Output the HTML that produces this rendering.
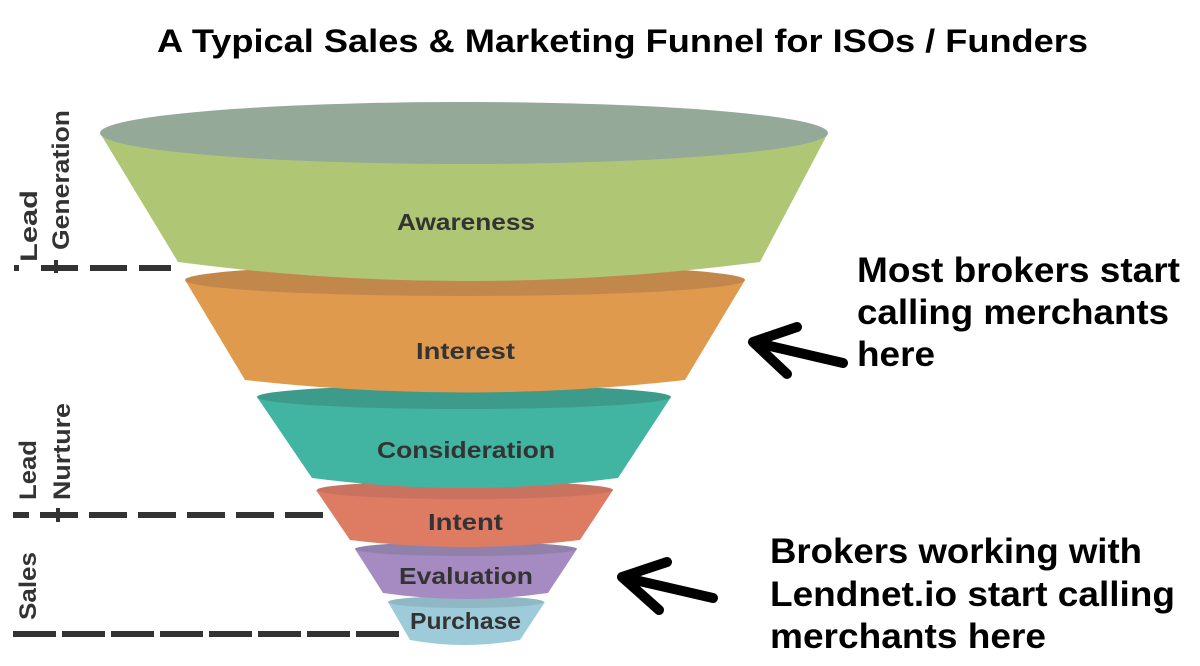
<!DOCTYPE html>
<html><head><meta charset="utf-8"><style>
html,body{margin:0;padding:0;background:#fff;}
svg{display:block;font-family:"Liberation Sans",Arial,sans-serif;font-weight:bold;}
</style></head><body>
<svg width="1200" height="666" viewBox="0 0 1200 666" xmlns="http://www.w3.org/2000/svg">
<text x="157" y="52" font-size="32" fill="#000" textLength="931" lengthAdjust="spacingAndGlyphs">A Typical Sales &amp; Marketing Funnel for ISOs / Funders</text>

<!-- Purchase -->
<path d="M388,602 L410,640 Q465,650 520,640 L545,602 Z" fill="#9dcbd9"/>
<ellipse cx="466" cy="602" rx="78" ry="6" fill="#8fb8c4"/>
<!-- Evaluation -->
<path d="M355,549 L383,593 Q465,605 548,593 L577,549 Z" fill="#a58bc2"/>
<ellipse cx="466" cy="549" rx="111" ry="7" fill="#9181aa"/>
<!-- Intent -->
<path d="M316,490 L350,540 Q465,554 580,540 L613,490 Z" fill="#dd7b63"/>
<ellipse cx="465" cy="490" rx="148" ry="9" fill="#c97260"/>
<!-- Consideration -->
<path d="M257,397 L312,478 Q465,498 618,478 L671,397 Z" fill="#42b5a2"/>
<ellipse cx="464" cy="397" rx="207" ry="12" fill="#3d9b8b"/>
<!-- Interest -->
<path d="M185,280 L245,380 Q465,405 685,380 L745,280 Z" fill="#df9a4e"/>
<ellipse cx="465" cy="280" rx="280" ry="16" fill="#c2884b"/>
<!-- Awareness -->
<path d="M100,133 L178,262 Q465,300 760,262 L828,133 Z" fill="#afc675"/>
<ellipse cx="464" cy="133" rx="364" ry="31" fill="#95a999"/>

<g fill="#333" font-size="23">
<text x="397" y="230" textLength="138" lengthAdjust="spacingAndGlyphs">Awareness</text>
<text x="416" y="359" textLength="99" lengthAdjust="spacingAndGlyphs">Interest</text>
<text x="377" y="458" textLength="178" lengthAdjust="spacingAndGlyphs">Consideration</text>
<text x="428" y="530" textLength="75" lengthAdjust="spacingAndGlyphs">Intent</text>
<text x="399" y="584" textLength="134" lengthAdjust="spacingAndGlyphs">Evaluation</text>
<text x="410" y="629" textLength="111" lengthAdjust="spacingAndGlyphs">Purchase</text>
</g>

<!-- dashes -->
<g stroke="#333" stroke-width="6" fill="none">
<line x1="14" y1="268" x2="19" y2="268"/>
<line x1="41" y1="268" x2="171" y2="268" stroke-dasharray="37,12"/>
<line x1="13" y1="515" x2="29" y2="515"/>
<line x1="40" y1="515" x2="324" y2="515" stroke-dasharray="38,11"/>
<line x1="13" y1="634" x2="400" y2="634" stroke-dasharray="43,6"/>
</g>
<g fill="#333">
<rect x="54" y="260" width="4" height="13"/>
<rect x="56" y="508" width="4" height="14"/>
</g>

<g fill="#333" font-size="24">
<text transform="translate(37,262) rotate(-90)" textLength="72" lengthAdjust="spacingAndGlyphs">Lead</text>
<text transform="translate(69,250) rotate(-90)" textLength="140" lengthAdjust="spacingAndGlyphs">Generation</text>
<text transform="translate(36,500) rotate(-90)" textLength="60" lengthAdjust="spacingAndGlyphs">Lead</text>
<text transform="translate(70,500) rotate(-90)" textLength="97" lengthAdjust="spacingAndGlyphs">Nurture</text>
<text transform="translate(36,620) rotate(-90)" textLength="68" lengthAdjust="spacingAndGlyphs">Sales</text>
</g>

<!-- arrows -->
<g stroke="#000" stroke-width="10" stroke-linecap="round" stroke-linejoin="round" fill="none">
<path d="M797,327 L753,342 L787,374 M753,342 L843,363"/>
<path d="M667,562 L622,577 L659,610 M622,577 L713,598"/>
</g>

<g fill="#000" font-size="35">
<text x="857" y="282" textLength="323" lengthAdjust="spacingAndGlyphs">Most brokers start</text>
<text x="857" y="324" textLength="312" lengthAdjust="spacingAndGlyphs">calling merchants</text>
<text x="857" y="366" textLength="78" lengthAdjust="spacingAndGlyphs">here</text>
<text x="770" y="563" textLength="372" lengthAdjust="spacingAndGlyphs">Brokers working with</text>
<text x="770" y="606" textLength="405" lengthAdjust="spacingAndGlyphs">Lendnet.io start calling</text>
<text x="770" y="648" textLength="276" lengthAdjust="spacingAndGlyphs">merchants here</text>
</g>
</svg>
</body></html>
